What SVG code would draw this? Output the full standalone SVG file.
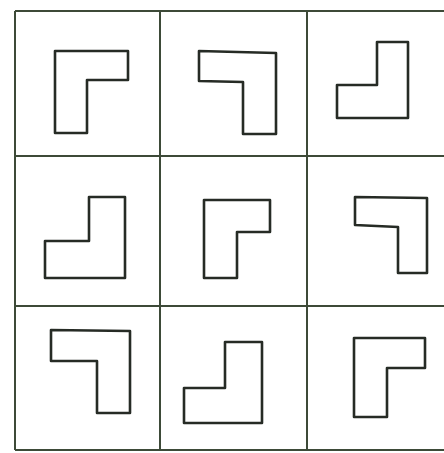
<svg xmlns="http://www.w3.org/2000/svg" width="444" height="453" viewBox="0 0 444 453">
<style>
.grid{stroke:#3d4a38;stroke-width:2;fill:none}
.shape{stroke:#262b25;stroke-width:2.6;fill:none;stroke-linejoin:round}
</style>
<rect width="444" height="453" fill="#ffffff"/>
<g id="grid" class="grid">
<line x1="15" y1="11" x2="444" y2="11"/>
<line x1="15" y1="156" x2="444" y2="156"/>
<line x1="15" y1="306" x2="444" y2="306"/>
<line x1="15" y1="450" x2="444" y2="450"/>
<line x1="15" y1="11" x2="15" y2="450"/>
<line x1="160" y1="11" x2="160" y2="450"/>
<line x1="307" y1="11" x2="307" y2="450"/>
</g>
<g id="cell1"><path class="shape" d="M55,51 L128,51 L128,80 L87,80 L87,133 L55,133 Z"/></g>
<g id="cell2"><path class="shape" d="M199,51 L276,53 L276,134 L243,134 L243,82 L199,81 Z"/></g>
<g id="cell3"><path class="shape" d="M377,42 L408,42 L408,118 L337,118 L337,85 L377,85 Z"/></g>
<g id="cell4"><path class="shape" d="M89,197 L125,197 L125,278 L45,278 L45,241 L89,241 Z"/></g>
<g id="cell5"><path class="shape" d="M204,200 L270,200 L270,232 L237,232 L237,278 L204,278 Z"/></g>
<g id="cell6"><path class="shape" d="M355,197 L427,198 L427,273 L398,273 L398,227 L355,225 Z"/></g>
<g id="cell7"><path class="shape" d="M51,330 L130,331 L130,413 L97,413 L97,361 L51,361 Z"/></g>
<g id="cell8"><path class="shape" d="M225,342 L262,342 L262,423 L184,423 L184,388 L225,388 Z"/></g>
<g id="cell9"><path class="shape" d="M354,338 L425,338 L425,368 L387,368 L387,417 L354,417 Z"/></g>
</svg>
